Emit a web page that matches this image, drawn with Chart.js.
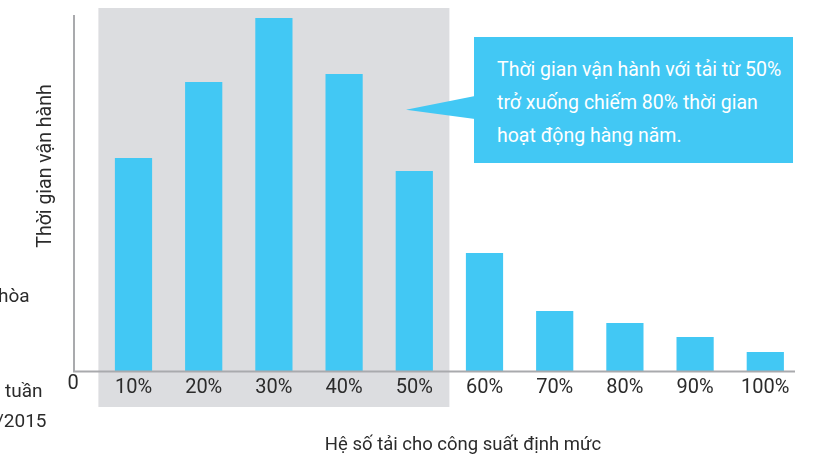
<!DOCTYPE html>
<html>
<head>
<meta charset="utf-8">
<script src="https://cdn.jsdelivr.net/npm/chart.js@4/dist/chart.umd.min.js"></script>
<style>
  html, body { margin: 0; padding: 0; background: #fff; }
  #wrap { position: relative; width: 835px; height: 460px; overflow: hidden; font-family: Roboto, "Noto Sans", sans-serif; color: #2b2b2b; }
  #chart { position: absolute; left: 0; top: 0; }
  .txt { position: absolute; white-space: nowrap; font-size: 19px; }
  #yTitle { left: 44px; top: 166px; transform: translate(-50%, -50%) rotate(-90deg); font-size: 19.5px; }
  #xTitle { left: 463px; top: 444px; transform: translate(-50%, -50%); font-size: 18.5px; }
  #callout { position: absolute; left: 474px; top: 37px; width: 296px; height: 110px; background: #42c8f4;
             color: #fff; font-size: 19.5px; line-height: 33px; padding: 16px 0 0 23px; box-sizing: content-box; }
  #arrow { position: absolute; left: 406px; top: 96px; width: 69px; height: 23px; background: #42c8f4;
           clip-path: polygon(0 60%, 100% 0, 100% 100%); }
</style>
</head>
<body>
<div id="wrap">
  <canvas id="chart" width="835" height="460"></canvas>
  <div class="txt" style="left:-2px;top:284px;">hòa</div>
  <div class="txt" style="left:5px;top:379px;">tuần</div>
  <div class="txt" style="left:-4px;top:409px;">/2015</div>
  <div class="txt" id="yTitle">Thời gian vận hành</div>
  <div class="txt" id="xTitle">Hệ số tải cho công suất định mức</div>
  <div id="arrow"></div>
  <div id="callout">Thời gian vận hành với tải từ 50%<br>trở xuống chiếm 80% thời gian<br>hoạt động hàng năm.</div>
</div>
<script>
// dữ liệu (đơn vị tương đối)
const loadLabels = ['10%', '20%', '30%', '40%', '50%', '60%', '70%', '80%', '90%', '100%'];
const hours = [213, 289, 353, 297, 200, 118, 60, 48, 34, 19];
const yMax = 356;
const shadedFrom = 0; // index đầu vùng xám
const shadedTo = 4;   // index cuối vùng xám

const barColor = '#42c8f4';
const axisColor = '#a9aaad';

// vẽ vùng xám, trục và nhãn "0"
const decor = {
    id: 'decor',
    beforeDraw(chart) {
        const ctx = chart.ctx;
        const x = chart.scales.x;
        const step = x.getPixelForValue(1) - x.getPixelForValue(0);
        const x0 = x.getPixelForValue(shadedFrom) - step / 2;
        const x1 = x.getPixelForValue(shadedTo) + step / 2;
        ctx.save();
        ctx.fillStyle = '#dcdde0';
        ctx.fillRect(x0, 8, x1 - x0, 399);
        ctx.restore();
    },
    afterDatasetsDraw(chart) {
        const ctx = chart.ctx;
        const area = chart.chartArea;
        ctx.save();
        ctx.strokeStyle = axisColor;
        ctx.lineWidth = 2;
        ctx.beginPath();
        ctx.moveTo(74, 15);
        ctx.lineTo(74, area.bottom + 0.5);
        ctx.lineTo(795, area.bottom + 0.5);
        ctx.stroke();
        ctx.fillStyle = '#2b2b2b';
        ctx.font = '20px Roboto';
        ctx.textAlign = 'center';
        ctx.textBaseline = 'middle';
        ctx.fillText('0', 73, 384);
        ctx.restore();
    }
};

new Chart(document.getElementById('chart'), {
    type: 'bar',
    data: {
        labels: loadLabels,
        datasets: [{
            data: hours,
            backgroundColor: barColor,
            borderWidth: 0,
            categoryPercentage: 1,
            barPercentage: 0.53
        }]
    },
    options: {
        responsive: false,
        animation: false,
        layout: { padding: { left: 98.4, right: 34.6, top: 15, bottom: 0 } },
        plugins: { legend: { display: false }, tooltip: { enabled: false } },
        scales: {
            x: {
                grid: { display: false, drawTicks: false },
                border: { display: false },
                ticks: { color: '#2b2b2b', font: { family: 'Roboto', size: 20 }, padding: 5, maxRotation: 0, autoSkip: false },
                afterFit(s) { s.height = 89; }
            },
            y: {
                display: false,
                min: 0,
                max: yMax
            }
        }
    },
    plugins: [decor]
});
</script>
</body>
</html>
